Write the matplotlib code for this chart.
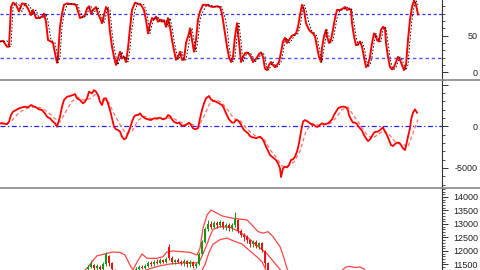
import numpy as np
import matplotlib
matplotlib.use("Agg")
import matplotlib.pyplot as plt
from matplotlib.lines import Line2D
from matplotlib.ticker import MultipleLocator

plt.rcParams['font.family'] = ['Liberation Sans', 'DejaVu Sans']
plt.rcParams['axes.unicode_minus'] = False

# ---- stochastic (panel 1) ----
k_pos = [0, 3, 7, 9, 11, 13, 16, 19, 22, 25, 28, 31, 33, 36, 39, 42, 44, 46, 48, 51,
         53, 55, 57, 58, 60, 62, 64, 67, 70, 73, 76, 78, 80, 83, 85, 87, 89, 91, 93, 96,
         98, 100, 102, 104, 106, 108, 110, 112, 114, 116, 118, 120, 122, 124, 126, 128, 130, 132, 135, 138,
         141, 144, 146, 148, 150, 152, 154, 156, 158, 160, 162, 164, 166, 168, 170, 172, 174, 176, 178, 180,
         182, 184, 186, 189, 190, 192, 194, 196, 198, 200, 203, 207, 210, 213, 217, 220, 222, 224, 227, 229,
         231, 233, 235, 237, 239, 241, 243, 245, 247, 249, 251, 253, 255, 257, 259, 261, 263, 265, 267, 269,
         271, 273, 275, 277, 279, 281, 283, 285, 287, 289, 292, 294, 296, 298, 300, 302, 304, 306, 309, 311,
         313, 315, 317, 319, 321, 322, 324, 326, 327, 329, 331, 333, 335, 337, 340, 343, 345, 347, 349, 351,
         352, 354, 356, 358, 360, 362, 364, 366, 368, 370, 372, 374, 376, 377, 379, 381, 383, 385, 386, 388,
         390, 392, 394, 396, 398, 400, 402, 404, 406, 408, 410, 412, 414, 416, 418]
k_val = [42, 43, 35, 35, 89, 95, 92, 83, 94, 93, 87, 78, 85, 74, 74, 76, 80, 69, 44, 42,
         40, 26, 13, 21, 62, 80, 92, 94, 93, 93, 92, 83, 74, 76, 78, 87, 90, 80, 85, 89,
         80, 74, 67, 78, 89, 85, 55, 35, 21, 10, 19, 28, 19, 21, 14, 33, 60, 85, 95, 93,
         92, 85, 71, 53, 65, 74, 72, 76, 69, 72, 69, 71, 62, 74, 62, 44, 30, 17, 21, 28,
         17, 17, 40, 53, 60, 44, 28, 44, 72, 83, 92, 92, 90, 89, 90, 89, 80, 62, 35, 21,
         14, 21, 49, 67, 42, 14, 21, 26, 27, 25, 21, 14, 17, 20, 25, 27, 21, 5, 3, 10,
         14, 10, 7, 10, 14, 27, 42, 47, 40, 44, 50, 51, 53, 62, 78, 92, 85, 67, 58, 55,
         53, 49, 35, 21, 14, 33, 49, 58, 49, 40, 44, 58, 74, 85, 85, 87, 89, 85, 87, 85,
         67, 49, 37, 38, 42, 35, 21, 7, 10, 21, 40, 53, 49, 44, 42, 58, 62, 60, 40, 21,
         7, 4, 7, 14, 21, 17, 10, 3, 10, 44, 72, 89, 98, 92, 79]
d_val = [42, 42, 43, 35, 35, 89, 95, 92, 83, 94, 93, 87, 78, 85, 74, 74, 76, 80, 69, 44,
         42, 40, 26, 13, 21, 62, 80, 92, 94, 93, 93, 92, 83, 74, 76, 78, 87, 90, 80, 85,
         89, 80, 74, 67, 78, 89, 85, 55, 35, 21, 10, 19, 28, 19, 21, 14, 33, 60, 85, 95,
         93, 92, 85, 71, 53, 65, 74, 72, 76, 69, 72, 69, 71, 62, 74, 62, 44, 30, 17, 21,
         28, 17, 17, 40, 53, 60, 44, 28, 44, 72, 83, 92, 92, 90, 89, 90, 89, 80, 62, 35,
         21, 14, 21, 49, 67, 42, 14, 21, 26, 27, 25, 21, 14, 17, 20, 25, 27, 21, 5, 3,
         10, 14, 10, 7, 10, 14, 27, 42, 47, 40, 44, 50, 51, 53, 62, 78, 92, 85, 67, 58,
         55, 53, 49, 35, 21, 14, 33, 49, 58, 49, 40, 44, 58, 74, 85, 85, 87, 89, 85, 87,
         85, 67, 49, 37, 38, 42, 35, 21, 7, 10, 21, 40, 53, 49, 44, 42, 58, 62, 60, 40,
         21, 7, 4, 7, 14, 21, 17, 10, 3, 10, 44, 72, 89, 98, 92]

# ---- MACD (panel 2) ----
m_pos = [0, 3, 7, 9, 11, 13, 16, 19, 22, 25, 28, 31, 33, 36, 39, 42, 45, 47, 50, 53,
         55, 57, 58, 60, 62, 64, 67, 70, 73, 75, 77, 80, 83, 85, 87, 89, 92, 94, 96, 98,
         100, 102, 104, 106, 108, 110, 112, 114, 116, 118, 120, 122, 124, 126, 128, 130, 132, 134, 136, 138,
         140, 142, 145, 148, 151, 154, 157, 160, 163, 166, 168, 170, 172, 174, 177, 179, 181, 183, 186, 189,
         191, 193, 195, 198, 200, 202, 204, 206, 209, 211, 213, 216, 219, 222, 224, 226, 229, 232, 234, 236,
         238, 240, 242, 244, 246, 248, 250, 252, 254, 256, 258, 260, 262, 264, 266, 268, 270, 272, 274, 276,
         278, 280, 281, 283, 285, 287, 289, 291, 293, 295, 297, 299, 301, 303, 305, 308, 310, 312, 314, 316,
         318, 320, 322, 324, 326, 328, 330, 332, 334, 336, 338, 340, 342, 344, 346, 348, 349, 351, 353, 355,
         357, 358, 360, 362, 364, 366, 368, 370, 372, 374, 376, 378, 380, 382, 383, 385, 387, 389, 391, 393,
         395, 397, 399, 401, 403, 405, 406, 408, 410, 411, 413, 415, 417]
m_val = [350, 350, 230, 540, 1340, 1740, 1940, 2140, 2260, 2340, 2260, 2540, 2420, 2260, 2020, 1940, 1540, 1140, 940, 540,
         350, -60, 350, 1140, 2340, 3140, 3540, 3620, 3740, 3860, 3340, 3140, 2740, 2940, 3340, 4140, 3940, 4340, 4140, 3740,
         2940, 2540, 3340, 3340, 2740, 1940, 940, -60, -370, -450, -660, -1260, -1570, -1450, -850, -250, 540, 1140, 1340, 1340,
         1540, 1220, 940, 820, 740, 940, 940, 1020, 820, 940, 1340, 1220, 820, 540, 350, 430, 160, 40, 160, 430,
         160, -250, -370, -250, 940, 1940, 2740, 3340, 3620, 3220, 3060, 2940, 2740, 2540, 2140, 1540, 820, 430, 430, 740,
         700, 400, -60, -460, -660, -850, -1180, -1340, -1340, -1460, -1340, -1260, -1460, -1860, -2460, -2940, -3460, -3660, -3860, -4060,
         -4460, -5060, -6100, -5060, -4860, -4940, -4660, -4060, -3980, -3660, -3060, -2060, -660, 540, 740, 540, 350, 160, 160, -60,
         -60, 160, 350, 230, 270, 350, 540, 820, 1340, 1740, 2140, 2260, 2340, 2340, 2260, 1940, 1340, 820, 430, 430,
         270, 40, -250, -540, -1060, -1460, -1780, -1580, -1180, -780, -660, -660, -460, -250, -140, -660, -1060, -1660, -2260, -2380,
         -2140, -1980, -1980, -2260, -2660, -2860, -2380, -1260, -250, 740, 1620, 2020, 1620]
s_pos = [0, 6, 12, 18, 24, 30, 36, 42, 48, 54, 60, 66, 72, 78, 84, 90, 96, 102, 108, 114,
         120, 126, 132, 138, 144, 150, 156, 162, 168, 174, 180, 186, 192, 198, 204, 210, 216, 222, 228, 234,
         240, 246, 252, 258, 264, 270, 276, 282, 288, 294, 300, 306, 312, 318, 324, 330, 336, 342, 348, 354,
         360, 366, 372, 378, 384, 390, 396, 402, 408, 414, 418]
s_val = [300, 250, 700, 1500, 2000, 2250, 2350, 2150, 1700, 1000, 500, 1800, 3000, 3500, 3100, 3300, 3900, 3200, 3000, 1500,
         200, -900, -600, 700, 1200, 950, 850, 900, 1000, 900, 500, 200, 250, -150, 1200, 2800, 3200, 2800, 1900, 900,
         700, -200, -900, -1300, -1500, -2800, -3700, -4800, -4800, -4300, -3000, -600, 350, 150, 150, 300, 1000, 2000, 2300, 1200,
         200, -900, -1500, -1000, -500, -1100, -2000, -2100, -2500, -500, 800]

# ---- price candles (panel 3) ----
c_pos = [85, 88, 91, 94, 97, 100, 103, 106, 109, 112, 115, 118, 121, 124, 127, 130, 133, 136, 139, 142,
         145, 148, 151, 154, 157, 160, 163, 166, 169, 172, 175, 178, 181, 184, 187, 190, 193, 196, 199, 202,
         205, 208, 211, 214, 217, 220, 223, 226, 229, 232, 235, 238, 241, 244, 247, 250, 253, 256, 259, 262,
         265, 268, 271, 274, 277]
c_open = [11200, 11330, 11420, 11480, 11380, 11420, 11350, 11520, 11800, 11550, 11300, 11150, 11050, 10950, 11000, 10900, 11050, 11200, 11350, 11420,
          11380, 11450, 11550, 11500, 11600, 11550, 11650, 11600, 12150, 11750, 11600, 11680, 11600, 11550, 11620, 11500, 11580, 11450, 11520, 11900,
          12350, 12800, 13000, 12900, 13050, 12950, 13080, 12900, 12980, 12850, 12950, 13150, 12750, 12600, 12500, 12400, 12250, 12350, 12200, 12280,
          12000, 11550, 11200, 11000, 10800]
c_close = [11250, 11420, 11500, 11380, 11450, 11350, 11500, 11900, 11550, 11350, 11150, 11050, 10950, 11000, 10900, 11050, 11200, 11350, 11420, 11380,
           11450, 11550, 11500, 11600, 11550, 11650, 11600, 11700, 11750, 11600, 11680, 11600, 11550, 11620, 11500, 11580, 11450, 11520, 11900, 12350,
           12800, 13000, 12900, 13050, 12950, 13080, 12900, 12980, 12850, 12950, 13200, 12750, 12600, 12500, 12400, 12250, 12350, 12200, 12280, 12050,
           11550, 11200, 11000, 10800, 10600]
c_high = [11300, 11480, 11650, 11530, 11500, 11470, 11600, 11970, 11850, 11600, 11350, 11200, 11100, 11050, 11050, 11100, 11250, 11420, 11480, 11470,
          11520, 11620, 11640, 11680, 11700, 11740, 11720, 11780, 12250, 11800, 11720, 11750, 11680, 11700, 11680, 11650, 11620, 11580, 11980, 12420,
          12900, 13150, 13100, 13120, 13100, 13150, 13120, 13050, 13030, 13050, 13450, 13200, 12800, 12680, 12600, 12450, 12420, 12400, 12350, 12330,
          12050, 11600, 11250, 11050, 10850]
c_low = [11100, 11280, 11380, 11300, 11300, 11280, 11300, 11450, 11450, 11250, 11050, 10980, 10900, 10880, 10850, 10850, 11000, 11150, 11300, 11320,
         11330, 11400, 11450, 11450, 11500, 11500, 11540, 11550, 11650, 11520, 11520, 11550, 11480, 11450, 11420, 11420, 11380, 11370, 11480, 11850,
         12300, 12750, 12800, 12850, 12850, 12900, 12800, 12780, 12750, 12750, 12900, 12650, 12500, 12380, 12300, 12150, 12150, 12100, 12080, 11950,
         11400, 11050, 10900, 10700, 10500]

# ---- bands ----
bu_pos = [80, 88, 93, 97, 107, 112, 120, 125, 130, 133, 137, 142, 147, 157, 163, 167, 173, 190, 197, 200,
          203, 207, 211, 213, 217, 222, 233, 247, 252, 258, 263, 268, 273, 280, 283, 287, 292, 300, 320, 340,
          346, 350, 355, 360, 364, 370, 390, 418]
bu_val = [11100, 11400, 11650, 11820, 11910, 11960, 11950, 11850, 11480, 11300, 11590, 11890, 11730, 11730, 11790, 11970, 12000, 11950, 11850, 12100,
          12840, 13330, 13520, 13480, 13400, 13300, 13210, 13150, 12960, 12720, 12660, 12715, 12530, 12160, 11850, 11360, 10930, 10560, 10190, 11220,
          11410, 11430, 11390, 11410, 11330, 11000, 10740, 10560]
bm_pos = [80, 100, 120, 140, 150, 160, 170, 180, 190, 197, 200, 203, 207, 210, 213, 220, 230, 240, 247, 257,
          267, 277, 290, 320, 360, 418]
bm_val = [10800, 11150, 11250, 11200, 11350, 11450, 11520, 11550, 11560, 11560, 11650, 11900, 12250, 12550, 12800, 12900, 12880, 12700, 12520, 12200,
          11900, 11450, 10900, 10200, 10300, 9800]
bl_pos = [80, 120, 150, 180, 190, 195, 200, 205, 209, 213, 220, 227, 233, 242, 250, 257, 262, 265, 270, 300, 418]
bl_val = [10500, 10700, 11000, 11150, 11250, 11300, 11150, 11500, 11950, 12250, 12420, 12480, 12380, 12260, 12000, 11780, 11600, 11370, 11000, 9800, 9000]

W = 480.0
H = 270.0
fig = plt.figure(figsize=(4.8, 2.7), dpi=100)
fig.patch.set_facecolor('white')

ax1 = fig.add_axes([0, 1 - 80 / H, 442 / W, 80 / H])
ax2 = fig.add_axes([0, 1 - 188 / H, 442 / W, 108 / H])
ax3 = fig.add_axes([0, 1 - 330 / H, 442 / W, 142 / H])


def style(ax):
    for s in ['top', 'bottom', 'left']:
        ax.spines[s].set_visible(False)
    ax.spines['right'].set_color('#333333')
    ax.spines['right'].set_linewidth(0.8)
    ax.set_xlim(0, 442)
    ax.set_xticks([])
    ax.yaxis.tick_right()
    ax.tick_params(axis='y', which='major', length=4.3, width=0.7, pad=21.5,
                   labelsize=6.5, colors='#333333', labelcolor='#222222')
    ax.tick_params(axis='y', which='minor', length=2.2, width=0.6, colors='#333333')


# panel 1
ax1.plot(k_pos, k_val, color='#ff0000', lw=1.4, zorder=3)
ax1.plot(k_pos, d_val, color='black', lw=0.6, ls=(0, (2, 2)), zorder=4)
ax1.axhline(80, color='#3333ee', lw=0.9, ls=(0, (2.5, 2)), zorder=2)
ax1.axhline(20, color='#5555ff', lw=1.0, ls=(0, (2.5, 2)), zorder=2)
ax1.set_ylim(-10.5, 98.6)
style(ax1)
ax1.set_yticks([0, 50], labels=['0', '50'])
ax1.yaxis.set_minor_locator(MultipleLocator(10))

# panel 2
ax2.plot(s_pos, s_val, color='#ff7070', lw=0.9, ls=(0, (3, 2)), zorder=3)
ax2.plot(m_pos, m_val, color='#ff0000', lw=1.3, zorder=4)
ax2.axhline(0, color='#2222ff', lw=0.9, ls=(0, (4, 2, 1, 2)), zorder=2)
ax2.set_ylim(-7416, 5544)
style(ax2)
ax2.set_yticks([-5000, 0, 5000], labels=['-5000', '0', ''])
ax2.yaxis.set_minor_locator(MultipleLocator(1000))

# panel 3
ax3.plot(bu_pos, bu_val, color='#ff3030', lw=0.9, alpha=0.9, zorder=2)
ax3.plot(bm_pos, bm_val, color='#ff3030', lw=0.9, alpha=0.9, zorder=2)
ax3.plot(bl_pos, bl_val, color='#ff3030', lw=0.9, alpha=0.9, zorder=2)
o = np.array(c_open)
c = np.array(c_close)
up = c >= o
cols = np.where(up, '#109a10', '#ee1010')
ax3.vlines(c_pos, c_low, c_high, colors=cols, lw=0.7, zorder=3)
ax3.bar(c_pos, np.abs(c - o), bottom=np.minimum(o, c), width=1.3, color=cols, lw=0, zorder=3)
ax3.set_ylim(9074, 14333)
style(ax3)
ax3.set_yticks(np.arange(11500, 14001, 500))
ax3.yaxis.set_minor_locator(MultipleLocator(100))

for ax in (ax1, ax2, ax3):
    for t in ax.yaxis.get_major_ticks():
        t.label2.set_horizontalalignment('right')

# panel separators
for yy in (79.5, 187.5):
    fig.add_artist(Line2D([0, 1], [1 - yy / H, 1 - yy / H], transform=fig.transFigure,
                          color='#888888', lw=1.2))

fig.savefig('out.png', dpi=100)
